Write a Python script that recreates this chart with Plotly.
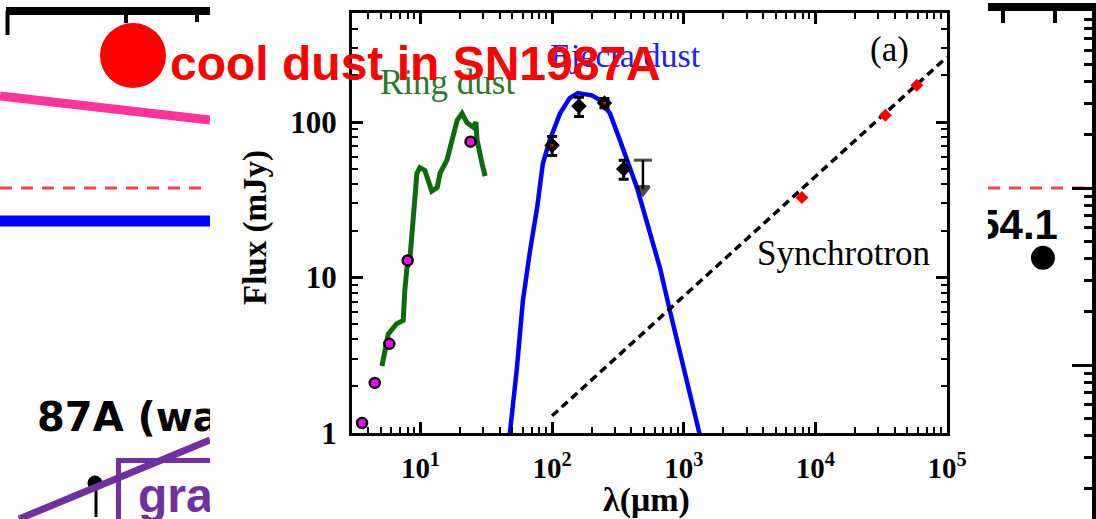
import plotly.graph_objects as go

W, H = 1096, 519

# ---------------- SED of SN 1987A ----------------
# Ring dust spectrum (wavelength in micron, flux in mJy)
ring_wave = [5.1, 5.7, 6.6, 7.4, 7.6, 7.9, 8.3, 9.4, 9.9, 10.8, 12.2, 13.4, 14.1,
             15.9, 19.0, 20.7, 22.6, 25.1, 26.4, 26.9, 29.4, 31.0]
ring_flux = [2.7, 4.35, 5.05, 5.3, 8.2, 11.6, 12.9, 47, 51, 49, 36, 38, 47,
             57, 103, 114, 99, 93, 100, 77, 54, 45]

# Ring dust photometry
ring_pt_wave = [3.6, 4.5, 5.8, 8.0, 24.0]
ring_pt_flux = [1.16, 2.1, 3.75, 12.9, 75]

# Ejecta dust model
ejecta_wave = [46, 47.6, 54, 60, 68, 77, 85, 96, 115, 136, 157, 200, 231, 275,
               327, 370, 441, 490, 554, 659, 786, 935, 1114, 1306, 1400]
ejecta_flux = [0.8, 0.97, 2.6, 7.1, 14.9, 28.3, 54, 77, 114, 143, 154, 149, 139, 114,
               77, 57, 38, 27.9, 19.2, 11.6, 6.1, 3.4, 1.87, 1.03, 0.8]

# Far-infrared photometry with errors
fir_wave = [100, 160, 250, 350]
fir_flux = [71, 127, 133, 50]
fir_err = [10, 18, 9, 7]
fir_red_wave = [100, 250]
fir_red_flux = [71, 133]

# Upper limit at 500 micron
ul_wave = [490, 490]
ul_flux = [57, 37]

# Synchrotron power law and radio points
sync_wave = [100, 1e5]
sync_flux = [1.29, 263]
radio_wave = [7900, 34000, 59000]
radio_flux = [32.8, 111, 173]

x_ticks = [10, 100, 1000, 1e4, 1e5]
x_ticktext = ["10<sup>1</sup>", "10<sup>2</sup>", "10<sup>3</sup>", "10<sup>4</sup>", "10<sup>5</sup>"]
y_ticks = [1, 10, 100]
y_ticktext = ["1", "10", "100"]

# ---------------- slide fragments around the SED ----------------
# left fragment (x from 0 to 210 px, y measured downward)
frag_top_x = [6, 210]
frag_top_y = [11, 11]
frag_tick_x = [7.5, 7.5, None, 126, 126, None, 197, 197]
frag_tick_y = [11, 35, None, 11, 23, None, 11, 22]
pink_x = [0, 210]
pink_y = [96, 120]
blue_x = [0, 210]
blue_y = [221, 221]
reddash_x = [0, 210]
reddash_y = [188, 188]
purple_x = [19, 210]
purple_y = [519, 440]
purple_box_x = [118.5, 118.5, 210]
purple_box_y = [519, 460.5, 460.5]
dot_x = [95]
dot_y = [483]
stem_x = [96, 96]
stem_y = [489, 517]

# right fragment: log axis, value coordinates
right_dash_x = [0, 1]
right_dash_y = [100, 100]
right_label = "54.1"
right_label_x = [0.676]
right_label_y = [59.4]
right_dot_x = [0.531]
right_dot_y = [40.3]

fig = go.Figure()

serif = "Liberation Serif"
sans = "Liberation Sans"
wide_sans = "DejaVu Sans"

# Ring dust spectrum
fig.add_trace(go.Scatter(x=ring_wave, y=ring_flux, mode="lines",
                         line=dict(color="#0d6b0d", width=5), xaxis="x", yaxis="y"))
# Ejecta dust model
fig.add_trace(go.Scatter(x=ejecta_wave, y=ejecta_flux, mode="lines",
                         line=dict(color="#0000ff", width=4.5), xaxis="x", yaxis="y"))
# Synchrotron
fig.add_trace(go.Scatter(x=sync_wave, y=sync_flux, mode="lines",
                         line=dict(color="black", width=3.5, dash="8px,5px"), xaxis="x", yaxis="y"))
# Ring photometry
fig.add_trace(go.Scatter(x=ring_pt_wave, y=ring_pt_flux, mode="markers",
                         marker=dict(color="#ff00ff", size=10, line=dict(color="black", width=2.5)),
                         xaxis="x", yaxis="y"))
# FIR photometry
fig.add_trace(go.Scatter(x=fir_wave, y=fir_flux, mode="markers",
                         error_y=dict(type="data", array=fir_err, color="black", thickness=3, width=5),
                         marker=dict(color="black", size=12, symbol="diamond"),
                         xaxis="x", yaxis="y"))
fig.add_trace(go.Scatter(x=fir_red_wave, y=fir_red_flux, mode="markers",
                         marker=dict(color="#ff0000", size=3), xaxis="x", yaxis="y"))
# Upper limit
fig.add_trace(go.Scatter(x=ul_wave, y=ul_flux, mode="lines+markers",
                         line=dict(color="black", width=2.5),
                         marker=dict(color="black", size=[13, 11],
                                     symbol=["line-ew", "triangle-down"],
                                     line=dict(color="black", width=3)),
                         xaxis="x", yaxis="y"))
# Radio points
fig.add_trace(go.Scatter(x=radio_wave, y=radio_flux, mode="markers",
                         marker=dict(color="#ff0000", size=10, symbol="diamond"),
                         xaxis="x", yaxis="y"))

# left fragment traces
frag = dict(xaxis="x3", yaxis="y3")
fig.add_trace(go.Scatter(x=frag_top_x, y=frag_top_y, mode="lines",
                         line=dict(color="black", width=8), **frag))
fig.add_trace(go.Scatter(x=frag_tick_x, y=frag_tick_y, mode="lines",
                         line=dict(color="black", width=4), **frag))
fig.add_trace(go.Scatter(x=pink_x, y=pink_y, mode="lines",
                         line=dict(color="#ff3399", width=9), **frag))
fig.add_trace(go.Scatter(x=reddash_x, y=reddash_y, mode="lines",
                         line=dict(color="#f04848", width=3, dash="12px,9px"), **frag))
fig.add_trace(go.Scatter(x=blue_x, y=blue_y, mode="lines",
                         line=dict(color="#0000ff", width=11), **frag))
fig.add_trace(go.Scatter(x=[37], y=[421], mode="text", text=["87A (wa"],
                         textposition="middle right", cliponaxis=True,
                         textfont=dict(family=wide_sans, size=40, color="black", weight="bold"), **frag))
fig.add_trace(go.Scatter(x=purple_box_x, y=purple_box_y, mode="lines",
                         line=dict(color="#7030a0", width=5), **frag))
fig.add_trace(go.Scatter(x=[138], y=[500], mode="text", text=["gra"],
                         textposition="middle right", cliponaxis=True,
                         textfont=dict(family=sans, size=48, color="#7030a0", weight="bold"), **frag))
fig.add_trace(go.Scatter(x=stem_x, y=stem_y, mode="lines",
                         line=dict(color="black", width=3), **frag))
fig.add_trace(go.Scatter(x=dot_x, y=dot_y, mode="markers",
                         marker=dict(color="black", size=15), **frag))
fig.add_trace(go.Scatter(x=purple_x, y=purple_y, mode="lines",
                         line=dict(color="#7030a0", width=7), **frag))

# right fragment traces
rfrag = dict(xaxis="x4", yaxis="y4")
fig.add_trace(go.Scatter(x=right_dash_x, y=right_dash_y, mode="lines",
                         line=dict(color="#f04848", width=3, dash="12px,9px"), **rfrag))
fig.add_trace(go.Scatter(x=right_label_x, y=right_label_y, mode="text", text=[right_label],
                         textposition="middle left", cliponaxis=True,
                         textfont=dict(family=sans, size=42, color="black", weight="bold"), **rfrag))
fig.add_trace(go.Scatter(x=right_dot_x, y=right_dot_y, mode="markers",
                         marker=dict(color="black", size=24), **rfrag))


def minor_vals(lo, hi):
    vals = []
    for n in range(lo, hi + 1):
        for k in range(2, 10):
            vals.append(k * 10 ** n)
    return vals


axis_common = dict(showline=True, linecolor="black", linewidth=3, mirror="allticks",
                   ticks="inside", ticklen=11, tickwidth=2.5, tickcolor="black",
                   showgrid=False, zeroline=False, type="log", automargin=False)

fig.update_layout(
    width=W, height=H, autosize=False,
    margin=dict(l=0, r=0, t=0, b=0, pad=0, autoexpand=False),
    paper_bgcolor="white", plot_bgcolor="white",
    showlegend=False,
    xaxis=dict(domain=[352 / W, 947 / W], anchor="y", range=[0.48, 5.0],
               tickmode="array", tickvals=x_ticks, ticktext=x_ticktext,
               tickfont=dict(family=serif, size=29, color="black", weight="bold"),
               ticklabelstandoff=7,
               minor=dict(ticks="inside", ticklen=6, tickwidth=2, tickcolor="black",
                          tickmode="array", tickvals=minor_vals(0, 4), showgrid=False),
               **axis_common),
    yaxis=dict(domain=[1 - 433 / H, 1 - 13 / H], anchor="x", range=[0, 2.703],
               tickmode="array", tickvals=y_ticks, ticktext=y_ticktext,
               tickfont=dict(family=serif, size=31, color="black", weight="bold"),
               ticklabelstandoff=6,
               minor=dict(ticks="inside", ticklen=6, tickwidth=2, tickcolor="black",
                          tickmode="array", tickvals=minor_vals(0, 2), showgrid=False),
               **axis_common),
    xaxis3=dict(domain=[0, 210 / W], anchor="y3", range=[0, 210], visible=False,
                automargin=False),
    yaxis3=dict(domain=[0, 1], anchor="x3", range=[519, 0], visible=False,
                automargin=False),
    xaxis4=dict(domain=[988 / W, 1091.5 / W], anchor="y4", range=[0, 1], side="top",
                showline=True, linecolor="black", linewidth=8, ticks="inside",
                tickmode="array", tickvals=[15 / 103.5, 67 / 103.5], ticklen=12, tickwidth=4,
                tickcolor="black", showticklabels=False, showgrid=False, zeroline=False,
                automargin=False),
    yaxis4=dict(domain=[0, 1 - 11 / H], anchor="x4", type="log", range=[0.13, 3.0], side="right",
                showline=True, linecolor="black", linewidth=6, ticks="inside",
                tickmode="array", tickvals=[10, 100, 1000], ticklen=20, tickwidth=3,
                tickcolor="black", showticklabels=False, showgrid=False, zeroline=False,
                automargin=False,
                minor=dict(ticks="inside", ticklen=8, tickwidth=3, tickcolor="black",
                           tickmode="array", tickvals=minor_vals(0, 2), showgrid=False)),
)

annotations = [
    dict(text="Ring dust", x=1.202, y=2.258, xref="x", yref="y", showarrow=False,
         font=dict(family=serif, size=35, color="#2a7a2a")),
    dict(text="Ejecta dust", x=2.554, y=2.432, xref="x", yref="y", showarrow=False,
         font=dict(family=serif, size=34, color="#2020ff")),
    dict(text="(a)", x=4.561, y=2.465, xref="x", yref="y", showarrow=False,
         font=dict(family=serif, size=35, color="black")),
    dict(text="Synchrotron", x=4.211, y=1.155, xref="x", yref="y", showarrow=False,
         font=dict(family=serif, size=35, color="black")),
    dict(text="Flux (mJy)", x=255 / W, y=1 - 228 / H, xref="paper", yref="paper",
         xanchor="center", yanchor="middle", showarrow=False, textangle=-90,
         font=dict(family=serif, size=33, color="black", weight="bold")),
    dict(text="λ(μm)", x=646 / W, y=1 - 500 / H, xref="paper", yref="paper",
         xanchor="center", yanchor="middle", showarrow=False,
         font=dict(family=serif, size=34, color="black", weight="bold")),
    dict(text="cool dust in SN1987A", x=168 / W, y=1 - 63 / H, xref="paper", yref="paper",
         xanchor="left", yanchor="middle", showarrow=False,
         font=dict(family=sans, size=48, color="#ff0000", weight="bold")),
]
fig.update_layout(annotations=annotations)

fig.add_shape(type="circle", xref="paper", yref="paper",
              x0=100 / W, x1=166 / W, y0=1 - 88 / H, y1=1 - 23 / H,
              fillcolor="#ff0000", line=dict(width=0), layer="above")

fig.write_html("out.html")
